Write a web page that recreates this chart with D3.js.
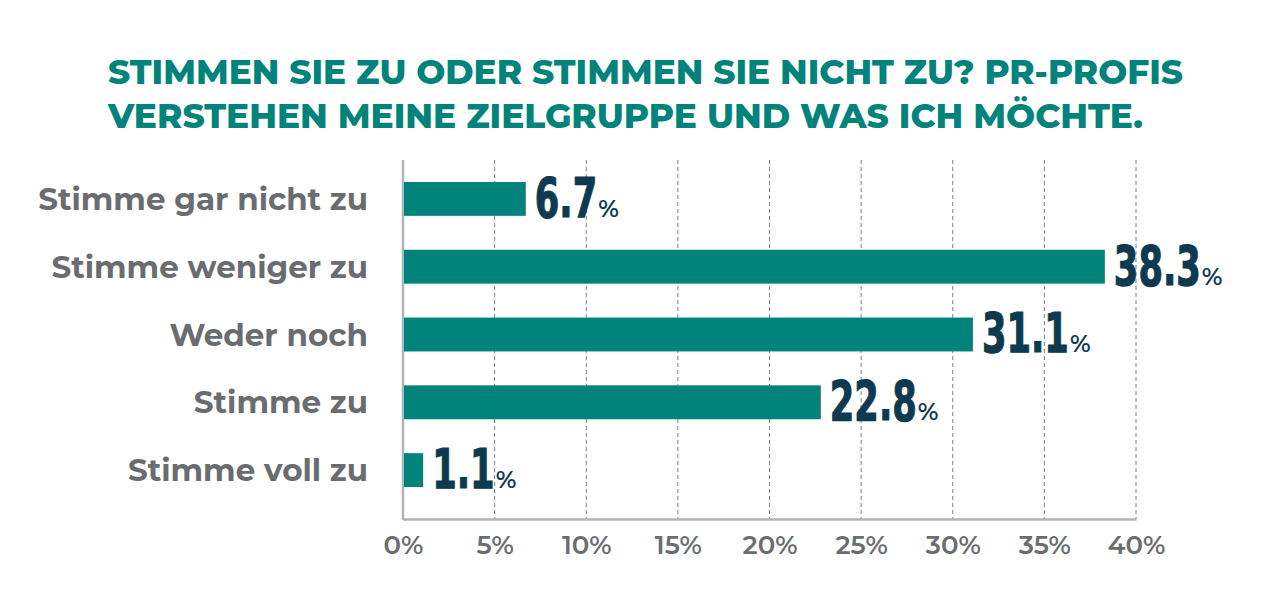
<!DOCTYPE html>
<html><head><meta charset="utf-8">
<script src="https://cdn.jsdelivr.net/npm/d3@7"></script>
<style>body{margin:0;background:#fff}svg{display:block}</style>
</head><body>
<svg id="chart" width="1269" height="607"></svg>
<script>
const titleLines = ["STIMMEN SIE ZU ODER STIMMEN SIE NICHT ZU? PR-PROFIS", "VERSTEHEN MEINE ZIELGRUPPE UND WAS ICH MÖCHTE."];
const categories = ["Stimme gar nicht zu", "Stimme weniger zu", "Weder noch", "Stimme zu", "Stimme voll zu"];
const values = [6.7, 38.3, 31.1, 22.8, 1.1];
const valueLabels = ["6.7", "38.3", "31.1", "22.8", "1.1"];
const ticks = [0, 5, 10, 15, 20, 25, 30, 35, 40];
const tickLabels = ["0%", "5%", "10%", "15%", "20%", "25%", "30%", "35%", "40%"];

const teal = "#00837a", navy = "#0e3a50", grey = "#6a6c70";
const svg = d3.select("#chart");
const x = d3.scaleLinear().domain([0, 40]).range([403, 1136]);
const y = d3.scaleBand().domain(categories).range([165, 504]).paddingInner(0.5).paddingOuter(0.25);
const plotTop = 160, plotBottom = 519;

// title
svg.selectAll("text.title").data(titleLines).join("text")
  .attr("class", "title").attr("x", 108).attr("y", (d, i) => 84 + i * 44)
  .attr("textLength", (d, i) => i === 0 ? 1075 : 1035).attr("lengthAdjust", "spacingAndGlyphs")
  .attr("font-family", "Montserrat, 'Open Sans', sans-serif").attr("font-weight", 800)
  .attr("font-size", 34).attr("fill", teal).text(d => d);

// gridlines
svg.append("g").selectAll("line").data(ticks.slice(1)).join("line")
  .attr("x1", d => x(d)).attr("x2", d => x(d)).attr("y1", plotTop).attr("y2", plotBottom)
  .attr("stroke", "#7d7f82").attr("stroke-width", 1).attr("stroke-dasharray", "4,3");

// x axis
const xAxis = svg.append("g").attr("transform", `translate(0,${plotBottom})`)
  .call(d3.axisBottom(x).tickValues(ticks).tickSize(0).tickPadding(17).tickFormat((d, i) => tickLabels[i]));
xAxis.select(".domain").attr("stroke", "#b1b3b6").attr("stroke-width", 2.5);
xAxis.selectAll("text").attr("font-family", "Montserrat, 'Open Sans', sans-serif").attr("font-weight", 600)
  .attr("font-size", 26).attr("fill", grey).attr("dy", "0.7em");

// y axis line
svg.append("line").attr("x1", x(0)).attr("x2", x(0)).attr("y1", plotTop).attr("y2", plotBottom + 1)
  .attr("stroke", "#b1b3b6").attr("stroke-width", 2.5);

// bars
svg.append("g").selectAll("rect").data(values).join("rect")
  .attr("x", x(0) + 1).attr("y", (d, i) => y(categories[i]))
  .attr("width", d => x(d) - x(0) - 1).attr("height", y.bandwidth()).attr("fill", teal);

// category labels
svg.append("g").selectAll("text").data(categories).join("text")
  .attr("x", 368).attr("y", d => y(d) + y.bandwidth() / 2 + 11).attr("text-anchor", "end")
  .attr("font-family", "Montserrat, 'Open Sans', sans-serif").attr("font-weight", 700)
  .attr("font-size", 31).attr("fill", grey).text(d => d);

// value labels
const sx = 0.7;
const vl = svg.append("g").selectAll("g").data(values).join("g")
  .attr("transform", (d, i) => `translate(${x(d) + 9},${y(categories[i]) + y.bandwidth() + 1})`);
vl.append("text").attr("transform", `scale(${sx},1)`)
  .attr("font-family", "'Liberation Sans Narrow', 'DejaVu Sans Condensed', sans-serif").attr("font-weight", 700)
  .attr("font-size", 56).attr("fill", navy).attr("stroke", navy).attr("stroke-width", 1.2).text((d, i) => valueLabels[i])
  .each(function () {
    const w = this.getComputedTextLength() * sx;
    d3.select(this.parentNode).append("text").attr("x", w + 1).attr("y", 0)
      .attr("font-family", "Montserrat, 'Open Sans', sans-serif").attr("font-weight", 600)
      .attr("font-size", 24).attr("fill", navy).text("%");
  });
</script>
</body></html>
